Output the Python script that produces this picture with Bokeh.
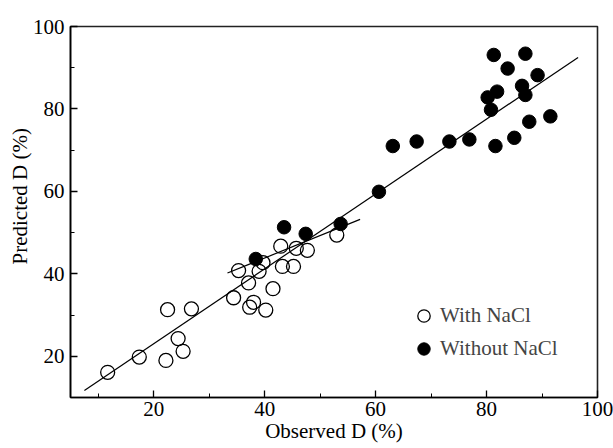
from bokeh.plotting import figure
from bokeh.models import Range1d, SingleIntervalTicker, Legend, LegendItem
from bokeh.embed import file_html
from bokeh.resources import INLINE

# ---- data ----
with_nacl_obs = [11.7, 17.4, 22.2, 22.5, 26.8, 24.4, 25.3, 34.4, 37.3, 38.0, 40.2,
                 41.5, 37.1, 35.3, 39.0, 39.7, 42.9, 43.2, 45.2, 45.7, 47.7, 53.0]
with_nacl_pred = [16.1, 19.8, 19.0, 31.3, 31.5, 24.3, 21.2, 34.2, 31.9, 33.1, 31.2,
                  36.4, 37.8, 40.8, 40.6, 42.7, 46.7, 41.8, 41.8, 46.2, 45.7, 49.4]

without_nacl_obs = [38.4, 43.5, 47.4, 53.7, 60.6, 63.1, 67.4, 73.3, 76.9, 81.6, 85.0,
                    87.7, 91.5, 80.8, 80.2, 81.9, 86.4, 87.0, 89.2, 83.8, 81.3, 87.0]
without_nacl_pred = [43.6, 51.3, 49.7, 52.1, 59.9, 71.0, 72.1, 72.1, 72.6, 71.0, 73.0,
                     76.9, 78.2, 79.8, 82.8, 84.2, 85.6, 83.4, 88.2, 89.8, 93.1, 93.4]

fit_all_x = [7.5, 96.5]
fit_all_y = [11.7, 92.5]
fit_short_x = [33.3, 57.2]
fit_short_y = [40.2, 53.2]

x_label = "Observed D (%)"
y_label = "Predicted D (%)"
series_labels = ["With NaCl", "Without NaCl"]

FONT = "Liberation Serif"
FS = "21px"

p = figure(width=613, height=448, output_backend="svg", toolbar_location=None,
           x_range=Range1d(5, 100), y_range=Range1d(10, 100),
           min_border_left=70, min_border_right=16, min_border_top=26, min_border_bottom=51)

p.xgrid.visible = False
p.ygrid.visible = False
p.outline_line_color = "#222222"
p.outline_line_width = 1.6

p.xaxis.ticker = SingleIntervalTicker(interval=20, num_minor_ticks=2)
p.yaxis.ticker = SingleIntervalTicker(interval=20, num_minor_ticks=2)
for ax in (p.xaxis[0], p.yaxis[0]):
    ax.axis_line_color = "black"
    ax.axis_line_width = 1.6
    ax.major_tick_line_color = "black"
    ax.major_tick_line_width = 1.3
    ax.minor_tick_line_color = "black"
    ax.minor_tick_line_width = 1.0
    ax.major_tick_in = 7
    ax.major_tick_out = 0
    ax.minor_tick_in = 4
    ax.minor_tick_out = 0
    ax.major_label_text_font = FONT
    ax.major_label_text_font_size = FS
    ax.major_label_text_color = "black"
    ax.axis_label_text_font = FONT
    ax.axis_label_text_font_size = FS
    ax.axis_label_text_font_style = "normal"
    ax.axis_label_text_color = "black"

p.xaxis.axis_label = x_label
p.yaxis.axis_label = "\u00a0" * 6 + y_label
p.xaxis.major_label_standoff = 4
p.yaxis.major_label_standoff = 6
p.xaxis.axis_label_standoff = 0
p.yaxis.axis_label_standoff = -2

# fit lines
p.line(fit_all_x, fit_all_y, line_color="black", line_width=1.2)
p.line(fit_short_x, fit_short_y, line_color="black", line_width=1.2)

r_open = p.scatter(with_nacl_obs, with_nacl_pred, marker="circle", size=14,
                   fill_color=None, line_color="black", line_width=1.3)
r_fill = p.scatter(without_nacl_obs, without_nacl_pred, marker="circle", size=13.5,
                   fill_color="black", line_color="black", line_width=1)

legend = Legend(items=[LegendItem(label=series_labels[0], renderers=[r_open]),
                       LegendItem(label=series_labels[1], renderers=[r_fill])],
                location=(338, 33), glyph_width=31, glyph_height=31, label_height=31,
                spacing=2, padding=0, margin=0, label_standoff=1,
                border_line_color=None, background_fill_alpha=0,
                label_text_font=FONT, label_text_font_size=FS)
p.add_layout(legend)

open("out.html", "w").write(file_html(p, INLINE))
